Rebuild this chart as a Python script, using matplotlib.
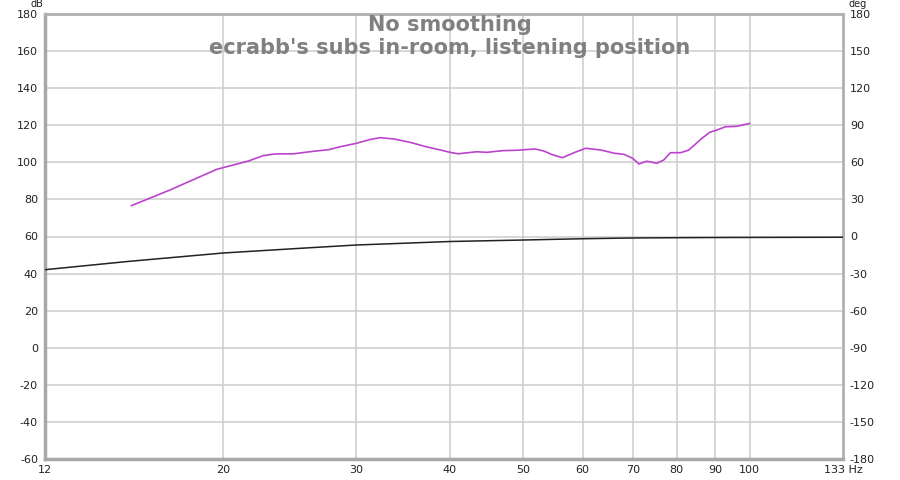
import matplotlib
matplotlib.use("Agg")
import matplotlib.pyplot as plt
from matplotlib.ticker import FixedLocator, FixedFormatter, NullLocator

plt.rcParams["axes.unicode_minus"] = False

# ---- data ----
mag_freq = [15.1, 17.0, 19.6, 21.6, 22.6, 23.4, 24.8, 26.4, 27.6, 28.6, 30.0, 31.4,
            32.3, 33.7, 35.4, 37.2, 38.9, 40.0, 41.0, 43.4, 44.8, 47.0, 49.0, 51.9,
            53.3, 54.7, 56.4, 58.6, 60.6, 63.5, 66.1, 68.1, 69.9, 71.3, 73.0, 75.3,
            76.9, 78.5, 81.0, 83.0, 86.2, 88.5, 90.4, 92.9, 96.0, 100.0]
mag_db = [76.6, 85.1, 96.2, 100.7, 103.6, 104.5, 104.6, 106.0, 106.8, 108.4, 110.2, 112.4,
          113.3, 112.6, 110.8, 108.4, 106.6, 105.4, 104.6, 105.7, 105.4, 106.3, 106.5, 107.2,
          106.1, 104.1, 102.5, 105.4, 107.6, 106.6, 104.9, 104.3, 102.2, 99.1, 100.6, 99.5,
          101.3, 105.2, 105.2, 106.6, 112.6, 116.2, 117.4, 119.2, 119.4, 121.0]

blk_freq = [11.6, 15, 20, 25, 30, 40, 50, 60, 70, 80, 90, 100, 133]
blk_db = [42.1, 46.6, 51.1, 53.5, 55.4, 57.3, 58.1, 58.8, 59.2, 59.35, 59.45, 59.5, 59.6]

x_tick_pos = [11.6, 20, 30, 40, 50, 60, 70, 80, 90, 100, 133]
x_tick_labels = ["12", "20", "30", "40", "50", "60", "70", "80", "90", "100", "133 Hz"]
x_grid = [20, 30, 40, 50, 60, 70, 80, 90, 100]
left_ticks = list(range(-60, 181, 20))
right_ticks = list(range(-180, 181, 30))

title1 = "No smoothing"
title2 = "ecrabb's subs in-room, listening position"

# ---- figure ----
fig = plt.figure(figsize=(9, 4.8), dpi=100)
ax = fig.add_axes([45/900, 21/480, (843-45)/900, (459-14)/480])
ax.set_xscale("log")
ax.set_xlim(11.6, 133)
ax.set_ylim(-60, 180)

ax.xaxis.set_major_locator(FixedLocator(x_tick_pos))
ax.xaxis.set_major_formatter(FixedFormatter(x_tick_labels))
ax.xaxis.set_minor_locator(NullLocator())
ax.set_yticks(left_ticks)
ax.tick_params(axis="both", length=0, labelsize=8, colors="#222222")
ax.tick_params(axis="x", pad=4)
ax.tick_params(axis="y", pad=5)

for g in x_grid:
    ax.axvline(g, color="#cccccc", lw=1.1, zorder=0)
for t in left_ticks:
    ax.axhline(t, color="#cccccc", lw=1.1, zorder=0)

ax.plot(blk_freq, blk_db, color="#222222", lw=1.1, zorder=3)
ax.plot(mag_freq, mag_db, color="#bb44cc", lw=1.2, zorder=4,
        solid_joinstyle="round", solid_capstyle="round")

for side in ["left", "bottom"]:
    ax.spines[side].set_color("#a8a8a8")
    ax.spines[side].set_linewidth(2.5)
for side in ["top", "right"]:
    ax.spines[side].set_color("#b0b0b0")
    ax.spines[side].set_linewidth(2)

ax2 = ax.twinx()
ax2.set_ylim(-180, 180)
ax2.set_yticks(right_ticks)
ax2.tick_params(axis="y", length=0, labelsize=8, colors="#222222", pad=5)
for s in ax2.spines.values():
    s.set_visible(False)

fig.text(37/900, 1 - 4/480, "dB", fontsize=7, ha="center", va="center", color="#222222")
fig.text(858/900, 1 - 4/480, "deg", fontsize=7, ha="center", va="center", color="#222222")

fig.text(450/900, 1 - 25/480, title1, fontsize=15, fontweight="bold", color="#808080",
         ha="center", va="center", zorder=10)
fig.text(450/900, 1 - 48/480, title2, fontsize=15, fontweight="bold", color="#808080",
         ha="center", va="center", zorder=10)

fig.savefig("out.png", dpi=100)
